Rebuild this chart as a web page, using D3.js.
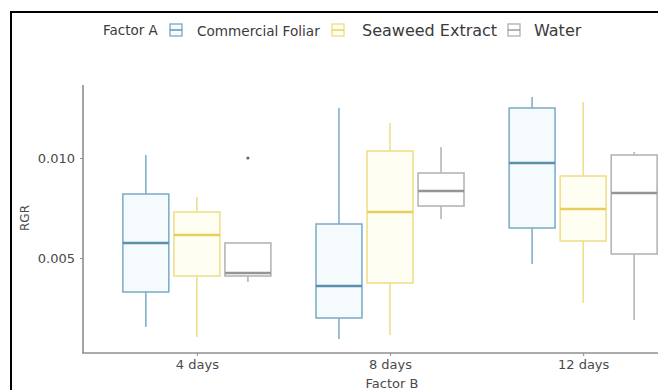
<!DOCTYPE html>
<html>
<head>
<meta charset="utf-8">
<script src="https://cdn.jsdelivr.net/npm/d3@7"></script>
<style>
  body { margin: 0; background: #fff; }
  svg { display: block; font-family: "DejaVu Sans", sans-serif; }
</style>
</head>
<body>
<div id="chart"></div>
<script>
// The SVG Element
var chart_width  = 658;
var chart_height = 390;

// Data: [min, q1, median, q3, max] per Factor B level
var days      = ['4 days', '8 days', '12 days'];
var factors   = ['Commercial Foliar', 'Seaweed Extract', 'Water'];
var commercial = [[0.00155, 0.0033, 0.00575, 0.0082, 0.01015],
                  [0.00095, 0.0020, 0.0036, 0.0067, 0.0125],
                  [0.0047, 0.0065, 0.00975, 0.0125, 0.01305]];
var seaweed    = [[0.00105, 0.0041, 0.00615, 0.0073, 0.00805],
                  [0.00115, 0.00375, 0.0073, 0.01035, 0.01175],
                  [0.00275, 0.00585, 0.00745, 0.0091, 0.0128]];
var water      = [[0.0038, 0.0041, 0.00425, 0.00575, 0.00575],
                  [0.00695, 0.0076, 0.00835, 0.00925, 0.01055],
                  [0.0019, 0.0052, 0.00825, 0.01015, 0.0103]];
var outliers   = [{day: '4 days', factor: 'Water', value: 0.0100}];
var y_ticks    = [0.005, 0.010];

var series = [commercial, seaweed, water];
var stroke = ['#80afcb', '#efdf8e', '#b5b5b5'];
var fill   = ['#f5fafd', '#fffef2', '#ffffff'];
var median = ['#5c8eae', '#e6cf5c', '#959595'];

var svg = d3.select('#chart')
    .append('svg')
    .attr('width', chart_width)
    .attr('height', chart_height);

// frame
svg.append('path')
    .attr('d', 'M11,' + chart_height + 'V12H' + chart_width)
    .attr('fill', 'none')
    .attr('stroke', '#000')
    .attr('stroke-width', 2);

var x = d3.scalePoint().domain(days).range([81, 699]).padding(0.6);
var dodge = d3.scaleBand().domain(factors).range([-74, 74]).paddingInner(0.1);
var y = d3.scaleLinear().domain([0.00025, 0.01365]).range([353, 85]);

// axes
var xAxis = svg.append('g')
    .attr('transform', 'translate(0,353)')
    .call(d3.axisBottom(x).tickSize(3).tickPadding(4));
var yAxis = svg.append('g')
    .attr('transform', 'translate(83,0)')
    .call(d3.axisLeft(y).tickValues(y_ticks).tickFormat(d3.format('.3f')).tickSize(3).tickPadding(5));

[xAxis, yAxis].forEach(function(g) {
    g.select('.domain').attr('stroke', '#8f8f8f').attr('stroke-width', 1.6);
    g.selectAll('.tick line').attr('stroke', '#8f8f8f');
    g.selectAll('.tick text').attr('fill', '#4a4a4a').attr('font-size', 13)
        .attr('font-family', '"DejaVu Sans", sans-serif');
});
xAxis.select('.domain').attr('d', 'M82,0H' + chart_width);
yAxis.select('.domain').attr('d', 'M0,85V353');
yAxis.selectAll('.tick text').attr('dy', '0.35em');

// boxes
var boxes = [];
series.forEach(function(s, si) {
    s.forEach(function(v, di) {
        boxes.push({day: days[di], fi: si, v: v});
    });
});

var g = svg.selectAll('g.box')
    .data(boxes)
    .enter()
    .append('g')
    .attr('class', 'box')
    .attr('transform', function(d) {
        return 'translate(' + (x(d.day) + dodge(factors[d.fi])) + ',0)';
    });

var bw = dodge.bandwidth();

g.append('line')
    .attr('x1', bw / 2).attr('x2', bw / 2)
    .attr('y1', function(d) { return y(d.v[4]); })
    .attr('y2', function(d) { return y(d.v[3]); })
    .attr('stroke', function(d) { return stroke[d.fi]; })
    .attr('stroke-width', 1.6);
g.append('line')
    .attr('x1', bw / 2).attr('x2', bw / 2)
    .attr('y1', function(d) { return y(d.v[1]); })
    .attr('y2', function(d) { return y(d.v[0]); })
    .attr('stroke', function(d) { return stroke[d.fi]; })
    .attr('stroke-width', 1.6);
g.append('rect')
    .attr('x', 0)
    .attr('width', bw)
    .attr('y', function(d) { return y(d.v[3]); })
    .attr('height', function(d) { return y(d.v[1]) - y(d.v[3]); })
    .attr('fill', function(d) { return fill[d.fi]; })
    .attr('stroke', function(d) { return stroke[d.fi]; })
    .attr('stroke-width', 1.6);
g.append('line')
    .attr('x1', 0).attr('x2', bw)
    .attr('y1', function(d) { return y(d.v[2]); })
    .attr('y2', function(d) { return y(d.v[2]); })
    .attr('stroke', function(d) { return median[d.fi]; })
    .attr('stroke-width', 2.6);

svg.selectAll('circle.outlier')
    .data(outliers)
    .enter()
    .append('circle')
    .attr('class', 'outlier')
    .attr('cx', function(d) { return x(d.day) + dodge(d.factor) + bw / 2; })
    .attr('cy', function(d) { return y(d.value); })
    .attr('r', 1.6)
    .attr('fill', '#666');

// axis titles
svg.append('text')
    .attr('transform', 'translate(29,218) rotate(-90)')
    .attr('text-anchor', 'middle')
    .attr('font-size', 12)
    .attr('fill', '#4a4a4a')
    .text('RGR');
svg.append('text')
    .attr('x', 392).attr('y', 388)
    .attr('text-anchor', 'middle')
    .attr('font-size', 13)
    .attr('fill', '#4a4a4a')
    .text('Factor B');

// legend
var legend = svg.append('g');
legend.append('text')
    .attr('x', 103).attr('y', 35)
    .attr('font-size', 13.5)
    .attr('fill', '#3a3a3a')
    .text('Factor A');
var key_x  = [170, 332, 508];
var text_x = [197, 362, 534];
var text_size = [13.6, 16, 16];
factors.forEach(function(f, i) {
    legend.append('rect')
        .attr('x', key_x[i]).attr('y', 24)
        .attr('width', 12).attr('height', 12)
        .attr('fill', fill[i])
        .attr('stroke', stroke[i])
        .attr('stroke-width', 1.4);
    legend.append('line')
        .attr('x1', key_x[i]).attr('x2', key_x[i] + 12)
        .attr('y1', 30).attr('y2', 30)
        .attr('stroke', median[i])
        .attr('stroke-width', 1.4);
    legend.append('text')
        .attr('x', text_x[i]).attr('y', 35.5)
        .attr('font-size', text_size[i])
        .attr('fill', '#3a3a3a')
        .text(f);
});
</script>
</body>
</html>
